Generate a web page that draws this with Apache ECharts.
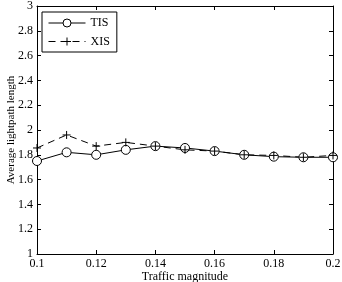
<!DOCTYPE html>
<html>
<head>
<meta charset="utf-8">
<script src="https://cdn.jsdelivr.net/npm/echarts@6/dist/echarts.min.js"></script>
<style>
html, body { margin: 0; padding: 0; background: #fff; }
#chart { width: 342px; height: 282px; }
</style>
</head>
<body>
<div id="chart"></div>
<script>
// traffic magnitude values
var traffic = [0.10, 0.11, 0.12, 0.13, 0.14, 0.15, 0.16, 0.17, 0.18, 0.19, 0.20];
var tis = [1.75, 1.82, 1.80, 1.84, 1.87, 1.855, 1.83, 1.80, 1.785, 1.78, 1.78];
var xis = [1.855, 1.96, 1.87, 1.90, 1.87, 1.84, 1.83, 1.80, 1.795, 1.78, 1.795];

function pairs(xs, ys) {
    return xs.map(function (x, i) { return [x, ys[i]]; });
}

var plus = 'path://M5,0 L5,10 M0,5 L10,5';
var font = 'Liberation Serif';

var myChart = echarts.init(document.getElementById('chart'));
var option = {
    animation: false,
    textStyle: { fontFamily: font },
    grid: { left: 37, right: 9, top: 6, bottom: 28, outerBoundsMode: 'none', containLabel: false },
    legend: {
        left: 42,
        top: 12,
        orient: 'vertical',
        itemWidth: 37,
        itemHeight: 10,
        itemGap: 6,
        padding: [5, 7, 4, 6],
        borderColor: '#000',
        borderWidth: 1,
        borderRadius: 0,
        backgroundColor: '#fff',
        lineStyle: { width: 1 },
        itemStyle: { borderWidth: 1 },
        textStyle: { fontFamily: font, fontSize: 12, color: '#000' },
        data: ['TIS', 'XIS']
    },
    xAxis: [
        {
            type: 'value',
            min: 0.1,
            max: 0.2,
            interval: 0.02,
            axisLine: { onZero: false, lineStyle: { color: '#000' } },
            axisTick: { inside: true, length: 4, lineStyle: { color: '#000' } },
            axisLabel: { color: '#000', fontSize: 12, fontFamily: font, margin: 4 },
            splitLine: { show: false },
            name: 'Traffic magnitude',
            nameLocation: 'middle',
            nameGap: 17,
            nameMoveOverlap: false,
            nameTextStyle: { color: '#000', fontSize: 12, fontFamily: font }
        },
        {
            type: 'value',
            position: 'top',
            min: 0.1,
            max: 0.2,
            interval: 0.02,
            axisLine: { onZero: false, lineStyle: { color: '#000' } },
            axisTick: { inside: true, length: 4, lineStyle: { color: '#000' } },
            axisLabel: { show: false },
            splitLine: { show: false }
        }
    ],
    yAxis: [
        {
            type: 'value',
            min: 1,
            max: 3,
            interval: 0.2,
            axisLine: { show: true, onZero: false, lineStyle: { color: '#000' } },
            axisTick: { show: true, inside: true, length: 4, lineStyle: { color: '#000' } },
            axisLabel: { color: '#000', fontSize: 12, fontFamily: font, margin: 4 },
            splitLine: { show: false },
            name: 'Average lightpath length',
            nameLocation: 'middle',
            nameGap: 20,
            nameMoveOverlap: false,
            nameTextStyle: { color: '#000', fontSize: 11, fontFamily: font }
        },
        {
            type: 'value',
            position: 'right',
            min: 1,
            max: 3,
            interval: 0.2,
            axisLine: { show: true, onZero: false, lineStyle: { color: '#000' } },
            axisTick: { show: true, inside: true, length: 4, lineStyle: { color: '#000' } },
            axisLabel: { show: false },
            splitLine: { show: false }
        }
    ],
    series: [
        {
            name: 'TIS',
            type: 'line',
            data: pairs(traffic, tis),
            symbol: 'circle',
            symbolSize: 9,
            lineStyle: { color: '#000', width: 1, type: 'solid' },
            itemStyle: { color: '#fff', borderColor: '#000', borderWidth: 1 }
        },
        {
            name: 'XIS',
            type: 'line',
            data: pairs(traffic, xis),
            symbol: plus,
            symbolSize: 8,
            lineStyle: { color: '#000', width: 1, type: [7, 5] },
            itemStyle: { color: 'none', borderColor: '#000', borderWidth: 1 }
        }
    ]
};
myChart.setOption(option);
</script>
</body>
</html>
